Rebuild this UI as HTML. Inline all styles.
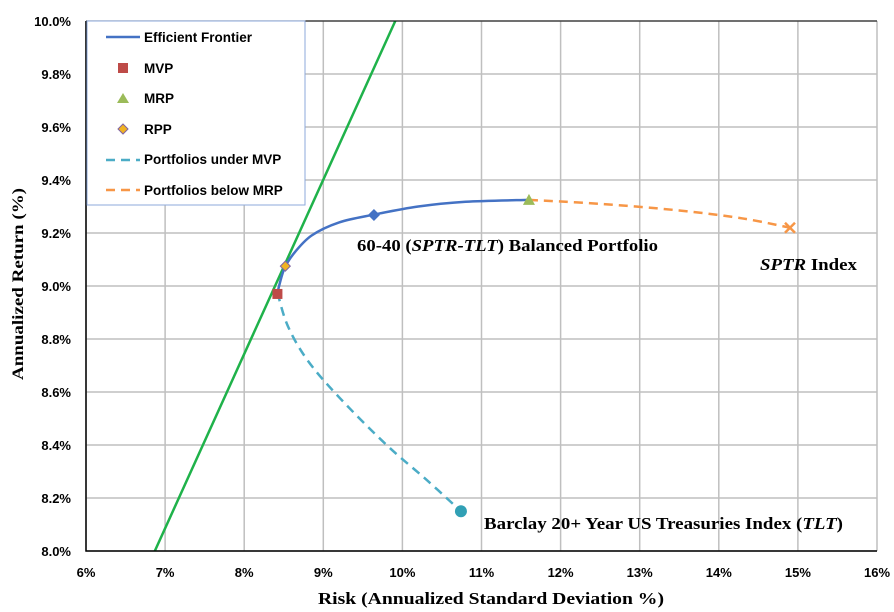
<!DOCTYPE html>
<html><head><meta charset="utf-8"><style>
body{margin:0;background:#fff;}
svg{display:block;font-family:"Liberation Sans",Arial,sans-serif;}
</style></head><body>
<svg id="chart" width="894" height="612" viewBox="0 0 894 612" xmlns="http://www.w3.org/2000/svg">
<g id="grid"></g>
<g id="series"></g>
<g id="axes"></g>
<text x="318" y="604" textLength="346" lengthAdjust="spacingAndGlyphs" font-family="Liberation Serif,serif" font-weight="bold" font-size="17">Risk (Annualized Standard Deviation %)</text>
<text transform="translate(23,380) rotate(-90)" textLength="192" lengthAdjust="spacingAndGlyphs" font-family="Liberation Serif,serif" font-weight="bold" font-size="16">Annualized Return (%)</text>
<text x="357" y="251" textLength="301" lengthAdjust="spacingAndGlyphs" font-family="Liberation Serif,serif" font-weight="bold" font-size="17">60-40 (<tspan font-style="italic">SPTR-TLT</tspan>) Balanced Portfolio</text>
<text x="760" y="270" textLength="97" lengthAdjust="spacingAndGlyphs" font-family="Liberation Serif,serif" font-weight="bold" font-size="17"><tspan font-style="italic">SPTR</tspan> Index</text>
<text x="484" y="529" textLength="359" lengthAdjust="spacingAndGlyphs" font-family="Liberation Serif,serif" font-weight="bold" font-size="17">Barclay 20+ Year US Treasuries Index (<tspan font-style="italic">TLT</tspan>)</text>
<g>
<rect x="87" y="21" width="218" height="184" fill="#fff" stroke="#8eaadb" stroke-width="1"/>
<line x1="106" y1="37" x2="140" y2="37" stroke="#4472c4" stroke-width="2.5"/>
<text x="144" y="42" font-size="13.5" font-weight="bold">Efficient Frontier</text>
<rect x="118" y="63" width="10" height="10" fill="#be4b48"/>
<text x="144" y="73" font-size="13.5" font-weight="bold">MVP</text>
<polygon points="123,93 129,103 117,103" fill="#9bbb59"/>
<text x="144" y="103" font-size="13.5" font-weight="bold">MRP</text>
<polygon points="123,124 128,129 123,134 118,129" fill="#f0b323" stroke="#8064a2" stroke-width="1"/>
<text x="144" y="134" font-size="13.5" font-weight="bold">RPP</text>
<line x1="106" y1="160" x2="140" y2="160" stroke="#4bacc6" stroke-width="2.5" stroke-dasharray="9,6"/>
<text x="144" y="164" font-size="13.5" font-weight="bold">Portfolios under MVP</text>
<line x1="106" y1="190" x2="140" y2="190" stroke="#f79646" stroke-width="2.5" stroke-dasharray="9,6"/>
<text x="144" y="195" font-size="13.5" font-weight="bold">Portfolios below MRP</text>
</g>
</svg>
<script>
const xTicks=[6,7,8,9,10,11,12,13,14,15,16];
const yTicks=[8.0,8.2,8.4,8.6,8.8,9.0,9.2,9.4,9.6,9.8,10.0];
const frontierX=[8.42,8.5,8.62,8.85,9.2,9.65,10.2,10.8,11.6];
const frontierY=[8.975,9.06,9.12,9.19,9.24,9.27,9.3,9.318,9.325];
const underX=[8.42,8.55,8.8,9.2,9.8,10.3,10.74];
const underY=[8.975,8.85,8.72,8.58,8.4,8.27,8.15];
const belowX=[11.6,12.5,13.5,14.3,14.9];
const belowY=[9.325,9.31,9.285,9.255,9.22];
const cmlX=[6.87,9.91];
const cmlY=[8.0,10.0];
const mvp=[8.42,8.97], mrp=[11.6,9.325], rpp=[8.52,9.075], bal=[9.64,9.268], sptr=[14.9,9.22], tlt=[10.74,8.15];
const L=86,R=877,T=21,B=551;
const sx=v=>L+(v-6)/10*(R-L);
const sy=v=>B-(v-8)/2*(B-T);
const NS="http://www.w3.org/2000/svg";
function mk(tag,at,parent){const e=document.createElementNS(NS,tag);for(const k in at)e.setAttribute(k,at[k]);parent.appendChild(e);return e;}
const grid=document.getElementById('grid'),axes=document.getElementById('axes'),ser=document.getElementById('series');
xTicks.forEach(t=>{
 const l=mk('line',{x1:sx(t),x2:sx(t),y1:T,y2:B,stroke:'#bfbfbf','stroke-width':1.5},grid);
 
 
 const tx=mk('text',{x:sx(t),y:577,'text-anchor':'middle','font-size':13,'font-weight':'bold'},axes);
 tx.textContent=t+'%';
 
 
});
yTicks.forEach(t=>{
 const l=mk('line',{x1:L,x2:R,y1:sy(t),y2:sy(t),stroke:'#bfbfbf','stroke-width':1.5},grid);
 
 
 const tx=mk('text',{x:71,y:sy(t)+5,'text-anchor':'end','font-size':13,'font-weight':'bold'},axes);
 tx.textContent=t.toFixed(1)+'%';
 
 
});
const ax=mk('polyline',{points:`${L},${T} ${L},${B} ${R},${B}`,fill:'none',stroke:'#000','stroke-width':1.5},axes);


mk('line',{x1:L,x2:R,y1:T,y2:T,stroke:'#000','stroke-width':1},axes);
function smooth(xs,ys){
 const p=xs.map((x,i)=>[sx(x),sy(ys[i])]);let d=`M${p[0][0]},${p[0][1]}`;
 for(let i=0;i<p.length-1;i++){const p0=p[i-1]||p[i],p1=p[i],p2=p[i+1],p3=p[i+2]||p2;
  d+=` C${p1[0]+(p2[0]-p0[0])/6},${p1[1]+(p2[1]-p0[1])/6} ${p2[0]-(p3[0]-p1[0])/6},${p2[1]-(p3[1]-p1[1])/6} ${p2[0]},${p2[1]}`;}
 return d;}
const cml=mk('line',{x1:sx(cmlX[0]),y1:sy(cmlY[0]),x2:sx(cmlX[1]),y2:sy(cmlY[1]),stroke:'#1fb24a','stroke-width':2.5},ser);


const f=mk('path',{d:smooth(frontierX,frontierY),fill:'none',stroke:'#4472c4','stroke-width':2.5},ser);


const u=mk('path',{d:smooth(underX,underY),fill:'none',stroke:'#4bacc6','stroke-width':2.5,'stroke-dasharray':'9,6'},ser);


const b=mk('path',{d:smooth(belowX,belowY),fill:'none',stroke:'#f79646','stroke-width':2.5,'stroke-dasharray':'9,6'},ser);


let e;
e=mk('rect',{x:sx(mvp[0])-5,y:sy(mvp[1])-5,width:10,height:10,fill:'#be4b48'},ser);


let X=sx(mrp[0]),Y=sy(mrp[1]);
e=mk('polygon',{points:`${X},${Y-6} ${X+6},${Y+5} ${X-6},${Y+5}`,fill:'#9bbb59'},ser);


X=sx(rpp[0]);Y=sy(rpp[1]);
e=mk('polygon',{points:`${X},${Y-5} ${X+5},${Y} ${X},${Y+5} ${X-5},${Y}`,fill:'#f0b323',stroke:'#8064a2','stroke-width':1},ser);


X=sx(bal[0]);Y=sy(bal[1]);
e=mk('polygon',{points:`${X},${Y-6} ${X+6},${Y} ${X},${Y+6} ${X-6},${Y}`,fill:'#4472c4'},ser);


X=sx(sptr[0]);Y=sy(sptr[1]);
e=mk('path',{d:`M${X-5},${Y-5}L${X+5},${Y+5}M${X+5},${Y-5}L${X-5},${Y+5}`,stroke:'#f79646','stroke-width':2.5},ser);


e=mk('circle',{cx:sx(tlt[0]),cy:sy(tlt[1]),r:6,fill:'#31a0b5'},ser);


</script>
</body></html>
